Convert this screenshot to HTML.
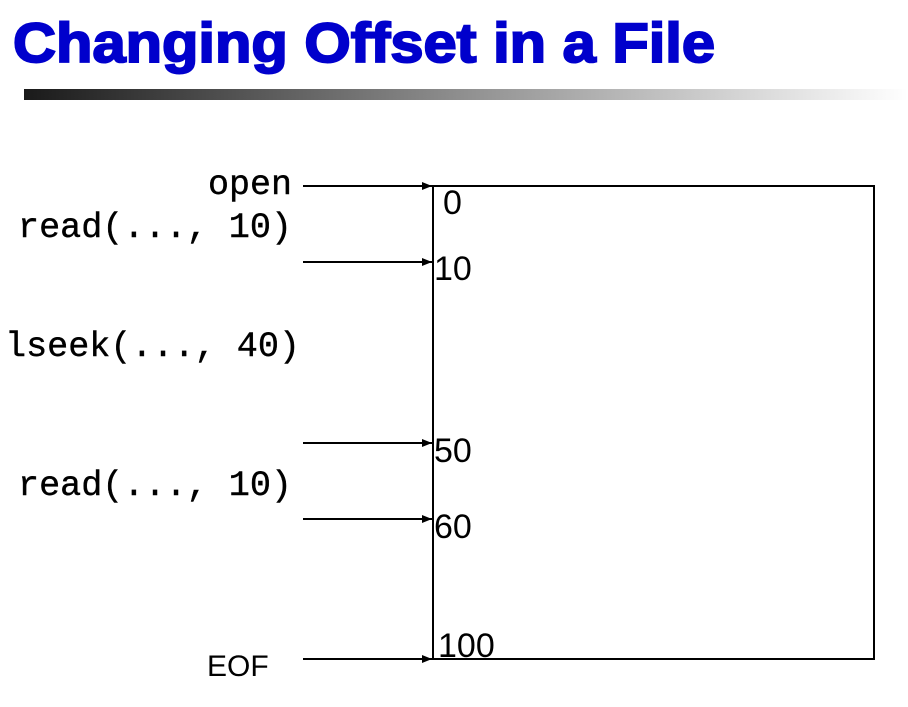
<!DOCTYPE html>
<html><head><style>
html,body{margin:0;padding:0;background:#fff;}
</style></head><body>
<svg width="908" height="702" viewBox="0 0 908 702" xmlns="http://www.w3.org/2000/svg">
<defs>
<linearGradient id="g" x1="0" x2="1" y1="0" y2="0">
<stop offset="0" stop-color="#1a1a1a"/><stop offset="0.5" stop-color="#909090"/><stop offset="1" stop-color="#ffffff"/>
</linearGradient>
<marker id="a" markerWidth="10" markerHeight="8" refX="10" refY="4" orient="auto" markerUnits="userSpaceOnUse">
<path d="M0,0 L10,4 L0,8 z" fill="#000"/>
</marker>
</defs>
<text x="13" y="62" font-family="Liberation Sans, sans-serif" font-weight="bold" font-size="56" fill="#0000cc" stroke="#0000cc" stroke-width="2" textLength="702" lengthAdjust="spacingAndGlyphs">Changing Offset in a File</text>
<rect x="24" y="89" width="884" height="11" fill="url(#g)"/>
<rect x="433" y="186" width="441" height="473" fill="none" stroke="#000" stroke-width="2"/>
<g stroke="#000" stroke-width="2" marker-end="url(#a)">
<line x1="303" y1="186" x2="432" y2="186"/>
<line x1="303" y1="262" x2="432" y2="262"/>
<line x1="303" y1="443" x2="432" y2="443"/>
<line x1="303" y1="519" x2="432" y2="519"/>
<line x1="303" y1="659" x2="432" y2="659"/>
</g>
<g font-family="Liberation Mono, monospace" font-size="35" fill="#000" stroke="#000" stroke-width="0.4">
<text x="292" y="194" text-anchor="end">open</text>
<text x="18" y="237" textLength="274" lengthAdjust="spacingAndGlyphs">read(..., 10)</text>
<text x="5" y="356" textLength="295" lengthAdjust="spacingAndGlyphs">lseek(..., 40)</text>
<text x="18" y="495" textLength="274" lengthAdjust="spacingAndGlyphs">read(..., 10)</text>
</g>
<g font-family="Liberation Sans, sans-serif" font-size="34" fill="#000">
<text x="207" y="676" font-size="30">EOF</text>
<text x="443" y="214">0</text>
<text x="434" y="280">10</text>
<text x="434" y="462">50</text>
<text x="434" y="538">60</text>
<text x="438" y="657">100</text>
</g>
</svg>
</body></html>
